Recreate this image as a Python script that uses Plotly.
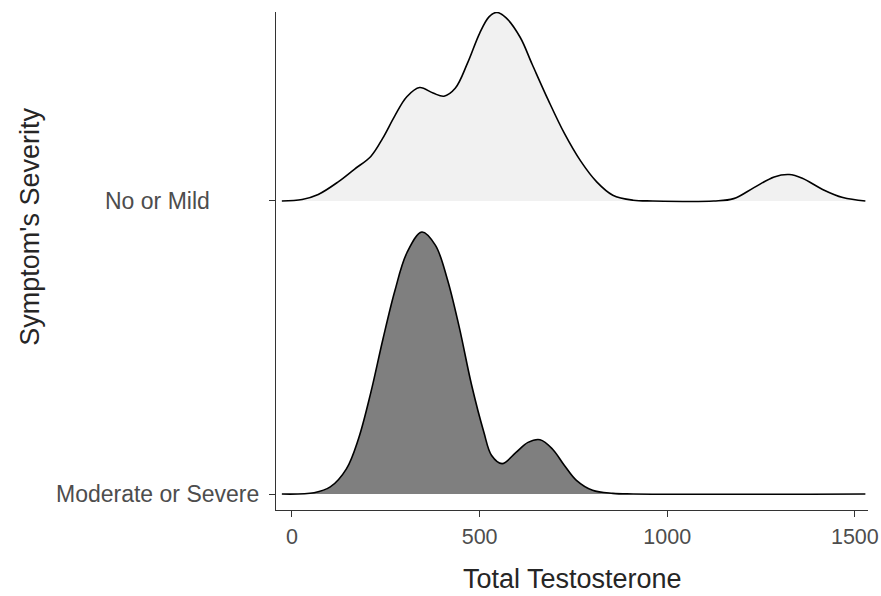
import plotly.graph_objects as go

# ---- data ----
categories = ["Moderate or Severe", "No or Mild"]
x_tick_vals = [0, 500, 1000, 1500]

# density curves (relative density, max of all ridges = 1)
tt_mild = [-27, 27, 70, 124, 167, 210, 242, 274, 306, 340, 376, 405, 435, 468, 500, 525,
           546, 570, 608, 640, 683, 726, 769, 812, 855, 909, 962, 1124, 1177, 1231, 1285,
           1325, 1360, 1414, 1468, 1528]
dens_mild = [0, 0.006, 0.025, 0.074, 0.122, 0.170, 0.240, 0.325, 0.398, 0.433, 0.412, 0.400,
             0.430, 0.527, 0.640, 0.703, 0.72, 0.700, 0.625, 0.522, 0.385, 0.258, 0.153,
             0.073, 0.022, 0.003, 0, 0, 0.009, 0.051, 0.092, 0.101, 0.087, 0.044, 0.013, 0]

tt_severe = [-27, 59, 102, 145, 177, 210, 242, 274, 306, 346, 382, 414, 446, 478, 511, 532,
             560, 597, 629, 661, 694, 726, 758, 801, 855, 909, 1528]
dens_severe = [0, 0.005, 0.027, 0.096, 0.21, 0.387, 0.589, 0.775, 0.92, 1.0, 0.950, 0.820,
               0.635, 0.420, 0.238, 0.147, 0.116, 0.159, 0.197, 0.207, 0.172, 0.109, 0.052,
               0.014, 0.0025, 0, 0]

ridge_scale = 0.894
font_family = "Liberation Sans, Arial, sans-serif"

fig = go.Figure()

ridges = [
    (tt_mild, dens_mild, 2, "#f1f1f1"),
    (tt_severe, dens_severe, 1, "#7f7f7f"),
]
for xs, ds, pos, fillc in ridges:
    fig.add_trace(go.Scatter(
        x=[xs[0], xs[-1]], y=[pos, pos], mode="lines",
        line=dict(width=0, color="rgba(0,0,0,0)"), showlegend=False, hoverinfo="skip"))
    fig.add_trace(go.Scatter(
        x=xs, y=[pos + ridge_scale * d for d in ds], mode="lines",
        line=dict(color="black", width=1.6, shape="spline", smoothing=1.0),
        fill="tonexty", fillcolor=fillc, showlegend=False))

axis_col = "#333333"
fig.update_xaxes(
    range=[-42.6, 1535], tickvals=x_tick_vals, ticktext=[str(v) for v in x_tick_vals],
    showline=True, linecolor=axis_col, linewidth=1.2, ticks="outside", ticklen=6,
    tickwidth=1.2, tickcolor=axis_col, showgrid=False, zeroline=False, automargin=False,
    tickfont=dict(size=21.5, color="#4d4d4d", family=font_family), ticklabelstandoff=1)
fig.update_yaxes(
    range=[0.9454, 2.645], tickvals=[1, 2], showticklabels=False, automargin=False,
    showline=True, linecolor=axis_col, linewidth=1.2, ticks="outside", ticklen=6,
    tickwidth=1.2, tickcolor=axis_col, showgrid=False, zeroline=False)

annotations = []
for i, c in enumerate(categories):
    annotations.append(dict(
        text=c, xref="paper", yref="y", x=-0.2002, y=i + 1, xanchor="center",
        yanchor="middle", showarrow=False,
        font=dict(size=23, color="#4d4d4d", family=font_family)))
annotations.append(dict(
    text="Total Testosterone", xref="paper", yref="paper", x=0.5, y=-0.1386,
    xanchor="center", yanchor="middle", showarrow=False,
    font=dict(size=27, color="#262626", family=font_family)))
annotations.append(dict(
    text="Symptom's Severity", xref="paper", yref="paper", x=-0.4145, y=0.568,
    xanchor="center", yanchor="middle", textangle=-90, showarrow=False,
    font=dict(size=27, color="#262626", family=font_family)))

fig.update_layout(
    width=881, height=596, margin=dict(l=276, r=13, t=12, b=86, autoexpand=False),
    plot_bgcolor="white", paper_bgcolor="white", annotations=annotations,
    font=dict(family=font_family))

fig.write_html("out.html", config={"displayModeBar": False},
               post_script="document.body.style.margin='0px';")
